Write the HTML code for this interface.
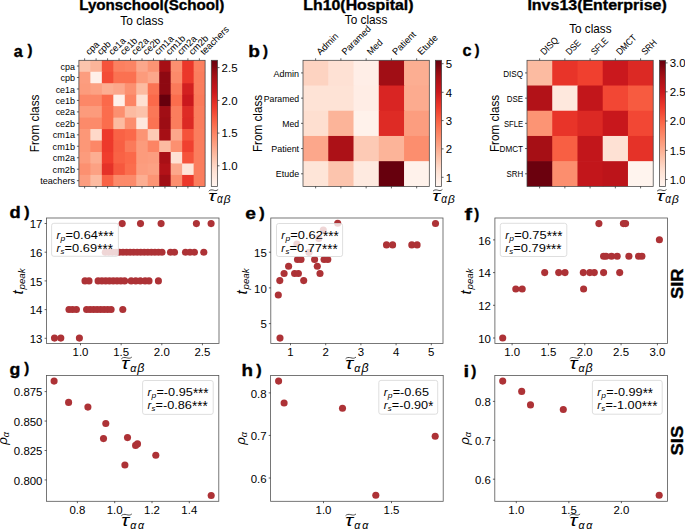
<!DOCTYPE html>
<html><head><meta charset="utf-8"><style>
html,body{margin:0;padding:0;background:#fff;}
svg{display:block;}
text{font-family:"Liberation Sans", sans-serif;}
</style></head><body>
<svg width="685" height="530" viewBox="0 0 685 530">
<rect width="685" height="530" fill="#fff"/>
<text transform="matrix(0.15174 0 0 0.14500 79.189 9.800)" font-size="100" font-weight="bold" stroke="#000" stroke-width="2.360" stroke-linejoin="round">Lyonschool(School)</text>
<text transform="matrix(0.15878 0 0 0.14500 303.343 9.860)" font-size="100" font-weight="bold" stroke="#000" stroke-width="2.307" stroke-linejoin="round">Lh10(Hospital)</text>
<text transform="matrix(0.15966 0 0 0.14500 527.437 9.800)" font-size="100" font-weight="bold" stroke="#000" stroke-width="2.300" stroke-linejoin="round">Invs13(Enterprise)</text>
<text transform="matrix(0.11927 0 0 0.12000 120.361 24.700)" font-size="100">To class</text>
<text transform="matrix(0.11814 0 0 0.12000 344.764 23.650)" font-size="100">To class</text>
<text transform="matrix(0.11730 0 0 0.12000 569.165 33.000)" font-size="100">To class</text>
<text transform="matrix(0 -0.11853 0.12200 0 39.100 152.348)" font-size="100">From class</text>
<text transform="matrix(0 -0.11686 0.12200 0 261.500 152.035)" font-size="100">From class</text>
<text transform="matrix(0 -0.11686 0.12200 0 498.800 152.035)" font-size="100">From class</text>
<text transform="matrix(0.16168 0 0 0.16636 13.790 56.559)" font-size="100" font-weight="bold" fill="#000" stroke="#000" stroke-width="2.134" stroke-linejoin="round">a</text>
<text transform="matrix(0.14912 0 0 0.15241 27.475 55.424)" font-size="100" font-weight="bold" fill="#000" stroke="#000" stroke-width="2.322" stroke-linejoin="round">)</text>
<text transform="matrix(0.19109 0 0 0.16122 248.233 56.964)" font-size="100" font-weight="bold" fill="#000" stroke="#000" stroke-width="1.994" stroke-linejoin="round">b</text>
<text transform="matrix(0.14912 0 0 0.15134 262.975 56.247)" font-size="100" font-weight="bold" fill="#000" stroke="#000" stroke-width="2.330" stroke-linejoin="round">)</text>
<text transform="matrix(0.16186 0 0 0.16818 462.428 56.357)" font-size="100" font-weight="bold" fill="#000" stroke="#000" stroke-width="2.121" stroke-linejoin="round">c</text>
<text transform="matrix(0.14211 0 0 0.15241 474.775 55.424)" font-size="100" font-weight="bold" fill="#000" stroke="#000" stroke-width="2.378" stroke-linejoin="round">)</text>
<text transform="matrix(0.18317 0 0 0.15850 9.442 217.566)" font-size="100" font-weight="bold" fill="#000" stroke="#000" stroke-width="2.054" stroke-linejoin="round">d</text>
<text transform="matrix(0.15965 0 0 0.14920 24.175 216.592)" font-size="100" font-weight="bold" fill="#000" stroke="#000" stroke-width="2.268" stroke-linejoin="round">)</text>
<text transform="matrix(0.19271 0 0 0.15727 245.304 218.668)" font-size="100" font-weight="bold" fill="#000" stroke="#000" stroke-width="2.010" stroke-linejoin="round">e</text>
<text transform="matrix(0.16316 0 0 0.15455 259.175 218.180)" font-size="100" font-weight="bold" fill="#000" stroke="#000" stroke-width="2.204" stroke-linejoin="round">)</text>
<text transform="matrix(0.22656 0 0 0.16483 464.535 220.325)" font-size="100" font-weight="bold" fill="#000" stroke="#000" stroke-width="1.811" stroke-linejoin="round">f</text>
<text transform="matrix(0.14912 0 0 0.14920 474.275 219.192)" font-size="100" font-weight="bold" fill="#000" stroke="#000" stroke-width="2.346" stroke-linejoin="round">)</text>
<text transform="matrix(0.17723 0 0 0.16733 9.466 374.511)" font-size="100" font-weight="bold" fill="#000" stroke="#000" stroke-width="2.032" stroke-linejoin="round">g</text>
<text transform="matrix(0.14912 0 0 0.14599 24.175 373.459)" font-size="100" font-weight="bold" fill="#000" stroke="#000" stroke-width="2.372" stroke-linejoin="round">)</text>
<text transform="matrix(0.18854 0 0 0.16897 241.555 375.725)" font-size="100" font-weight="bold" fill="#000" stroke="#000" stroke-width="1.961" stroke-linejoin="round">h</text>
<text transform="matrix(0.16316 0 0 0.15241 256.275 374.524)" font-size="100" font-weight="bold" fill="#000" stroke="#000" stroke-width="2.220" stroke-linejoin="round">)</text>
<text transform="matrix(0.20357 0 0 0.16897 463.450 377.425)" font-size="100" font-weight="bold" fill="#000" stroke="#000" stroke-width="1.887" stroke-linejoin="round">i</text>
<text transform="matrix(0.15263 0 0 0.15241 471.275 376.224)" font-size="100" font-weight="bold" fill="#000" stroke="#000" stroke-width="2.295" stroke-linejoin="round">)</text>
<rect x="78.900" y="60.300" width="12.173" height="12.164" fill="#fcc4ad"/>
<rect x="90.373" y="60.300" width="12.173" height="12.164" fill="#fcb499"/>
<rect x="101.845" y="60.300" width="12.173" height="12.164" fill="#f5533b"/>
<rect x="113.318" y="60.300" width="12.173" height="12.164" fill="#fc8060"/>
<rect x="124.791" y="60.300" width="12.173" height="12.164" fill="#fc8464"/>
<rect x="136.264" y="60.300" width="12.173" height="12.164" fill="#fca78b"/>
<rect x="147.736" y="60.300" width="12.173" height="12.164" fill="#fc9474"/>
<rect x="159.209" y="60.300" width="12.173" height="12.164" fill="#a60f15"/>
<rect x="170.682" y="60.300" width="12.173" height="12.164" fill="#fc9070"/>
<rect x="182.155" y="60.300" width="12.173" height="12.164" fill="#eb372a"/>
<rect x="193.627" y="60.300" width="11.473" height="12.164" fill="#fc8060"/>
<rect x="78.900" y="71.764" width="12.173" height="12.164" fill="#fc9d7f"/>
<rect x="90.373" y="71.764" width="12.173" height="12.164" fill="#fff0e9"/>
<rect x="101.845" y="71.764" width="12.173" height="12.164" fill="#f34c37"/>
<rect x="113.318" y="71.764" width="12.173" height="12.164" fill="#fb7151"/>
<rect x="124.791" y="71.764" width="12.173" height="12.164" fill="#fb7151"/>
<rect x="136.264" y="71.764" width="12.173" height="12.164" fill="#fc9b7c"/>
<rect x="147.736" y="71.764" width="12.173" height="12.164" fill="#fca78b"/>
<rect x="159.209" y="71.764" width="12.173" height="12.164" fill="#8e0912"/>
<rect x="170.682" y="71.764" width="12.173" height="12.164" fill="#fc8a6a"/>
<rect x="182.155" y="71.764" width="12.173" height="12.164" fill="#eb372a"/>
<rect x="193.627" y="71.764" width="11.473" height="12.164" fill="#fb7d5d"/>
<rect x="78.900" y="83.227" width="12.173" height="12.164" fill="#fc9b7c"/>
<rect x="90.373" y="83.227" width="12.173" height="12.164" fill="#fca183"/>
<rect x="101.845" y="83.227" width="12.173" height="12.164" fill="#fcae92"/>
<rect x="113.318" y="83.227" width="12.173" height="12.164" fill="#fca78b"/>
<rect x="124.791" y="83.227" width="12.173" height="12.164" fill="#fc9070"/>
<rect x="136.264" y="83.227" width="12.173" height="12.164" fill="#fcbba1"/>
<rect x="147.736" y="83.227" width="12.173" height="12.164" fill="#fb7353"/>
<rect x="159.209" y="83.227" width="12.173" height="12.164" fill="#8e0912"/>
<rect x="170.682" y="83.227" width="12.173" height="12.164" fill="#fb7a5a"/>
<rect x="182.155" y="83.227" width="12.173" height="12.164" fill="#d32020"/>
<rect x="193.627" y="83.227" width="11.473" height="12.164" fill="#fb7d5d"/>
<rect x="78.900" y="94.691" width="12.173" height="12.164" fill="#fc8767"/>
<rect x="90.373" y="94.691" width="12.173" height="12.164" fill="#fc8767"/>
<rect x="101.845" y="94.691" width="12.173" height="12.164" fill="#fb694a"/>
<rect x="113.318" y="94.691" width="12.173" height="12.164" fill="#fff0e9"/>
<rect x="124.791" y="94.691" width="12.173" height="12.164" fill="#fc8464"/>
<rect x="136.264" y="94.691" width="12.173" height="12.164" fill="#fee0d2"/>
<rect x="147.736" y="94.691" width="12.173" height="12.164" fill="#fb694a"/>
<rect x="159.209" y="94.691" width="12.173" height="12.164" fill="#67000d"/>
<rect x="170.682" y="94.691" width="12.173" height="12.164" fill="#fb6d4d"/>
<rect x="182.155" y="94.691" width="12.173" height="12.164" fill="#ca181d"/>
<rect x="193.627" y="94.691" width="11.473" height="12.164" fill="#fb7a5a"/>
<rect x="78.900" y="106.155" width="12.173" height="12.164" fill="#fc9b7c"/>
<rect x="90.373" y="106.155" width="12.173" height="12.164" fill="#fc9b7c"/>
<rect x="101.845" y="106.155" width="12.173" height="12.164" fill="#fb6d4d"/>
<rect x="113.318" y="106.155" width="12.173" height="12.164" fill="#fc9070"/>
<rect x="124.791" y="106.155" width="12.173" height="12.164" fill="#fcbba1"/>
<rect x="136.264" y="106.155" width="12.173" height="12.164" fill="#fcc2aa"/>
<rect x="147.736" y="106.155" width="12.173" height="12.164" fill="#fb7757"/>
<rect x="159.209" y="106.155" width="12.173" height="12.164" fill="#a10e15"/>
<rect x="170.682" y="106.155" width="12.173" height="12.164" fill="#fb7d5d"/>
<rect x="182.155" y="106.155" width="12.173" height="12.164" fill="#de2b25"/>
<rect x="193.627" y="106.155" width="11.473" height="12.164" fill="#fb7d5d"/>
<rect x="78.900" y="117.618" width="12.173" height="12.164" fill="#fc8a6a"/>
<rect x="90.373" y="117.618" width="12.173" height="12.164" fill="#fc8a6a"/>
<rect x="101.845" y="117.618" width="12.173" height="12.164" fill="#fb6d4d"/>
<rect x="113.318" y="117.618" width="12.173" height="12.164" fill="#fcbba1"/>
<rect x="124.791" y="117.618" width="12.173" height="12.164" fill="#fc8e6e"/>
<rect x="136.264" y="117.618" width="12.173" height="12.164" fill="#fee8dd"/>
<rect x="147.736" y="117.618" width="12.173" height="12.164" fill="#fb7353"/>
<rect x="159.209" y="117.618" width="12.173" height="12.164" fill="#9d0d14"/>
<rect x="170.682" y="117.618" width="12.173" height="12.164" fill="#fb7d5d"/>
<rect x="182.155" y="117.618" width="12.173" height="12.164" fill="#dc2924"/>
<rect x="193.627" y="117.618" width="11.473" height="12.164" fill="#fb7d5d"/>
<rect x="78.900" y="129.082" width="12.173" height="12.164" fill="#fc9777"/>
<rect x="90.373" y="129.082" width="12.173" height="12.164" fill="#fed9c9"/>
<rect x="101.845" y="129.082" width="12.173" height="12.164" fill="#ed392b"/>
<rect x="113.318" y="129.082" width="12.173" height="12.164" fill="#f96245"/>
<rect x="124.791" y="129.082" width="12.173" height="12.164" fill="#fb694a"/>
<rect x="136.264" y="129.082" width="12.173" height="12.164" fill="#fc9474"/>
<rect x="147.736" y="129.082" width="12.173" height="12.164" fill="#fdcab5"/>
<rect x="159.209" y="129.082" width="12.173" height="12.164" fill="#a60f15"/>
<rect x="170.682" y="129.082" width="12.173" height="12.164" fill="#fca78b"/>
<rect x="182.155" y="129.082" width="12.173" height="12.164" fill="#f5533b"/>
<rect x="193.627" y="129.082" width="11.473" height="12.164" fill="#fb7d5d"/>
<rect x="78.900" y="140.545" width="12.173" height="12.164" fill="#fc9777"/>
<rect x="90.373" y="140.545" width="12.173" height="12.164" fill="#fc8767"/>
<rect x="101.845" y="140.545" width="12.173" height="12.164" fill="#ed392b"/>
<rect x="113.318" y="140.545" width="12.173" height="12.164" fill="#f85f43"/>
<rect x="124.791" y="140.545" width="12.173" height="12.164" fill="#fb7a5a"/>
<rect x="136.264" y="140.545" width="12.173" height="12.164" fill="#fc9b7c"/>
<rect x="147.736" y="140.545" width="12.173" height="12.164" fill="#fc8464"/>
<rect x="159.209" y="140.545" width="12.173" height="12.164" fill="#fcbba1"/>
<rect x="170.682" y="140.545" width="12.173" height="12.164" fill="#fc9070"/>
<rect x="182.155" y="140.545" width="12.173" height="12.164" fill="#f0402f"/>
<rect x="193.627" y="140.545" width="11.473" height="12.164" fill="#fb7d5d"/>
<rect x="78.900" y="152.009" width="12.173" height="12.164" fill="#fc9b7c"/>
<rect x="90.373" y="152.009" width="12.173" height="12.164" fill="#fcae92"/>
<rect x="101.845" y="152.009" width="12.173" height="12.164" fill="#f03d2d"/>
<rect x="113.318" y="152.009" width="12.173" height="12.164" fill="#f96245"/>
<rect x="124.791" y="152.009" width="12.173" height="12.164" fill="#fb694a"/>
<rect x="136.264" y="152.009" width="12.173" height="12.164" fill="#fc9b7c"/>
<rect x="147.736" y="152.009" width="12.173" height="12.164" fill="#fc9d7f"/>
<rect x="159.209" y="152.009" width="12.173" height="12.164" fill="#a91016"/>
<rect x="170.682" y="152.009" width="12.173" height="12.164" fill="#fee1d4"/>
<rect x="182.155" y="152.009" width="12.173" height="12.164" fill="#f5533b"/>
<rect x="193.627" y="152.009" width="11.473" height="12.164" fill="#fb7d5d"/>
<rect x="78.900" y="163.473" width="12.173" height="12.164" fill="#fc9070"/>
<rect x="90.373" y="163.473" width="12.173" height="12.164" fill="#fca183"/>
<rect x="101.845" y="163.473" width="12.173" height="12.164" fill="#e53228"/>
<rect x="113.318" y="163.473" width="12.173" height="12.164" fill="#f6583e"/>
<rect x="124.791" y="163.473" width="12.173" height="12.164" fill="#fb6d4d"/>
<rect x="136.264" y="163.473" width="12.173" height="12.164" fill="#fc9d7f"/>
<rect x="147.736" y="163.473" width="12.173" height="12.164" fill="#fca183"/>
<rect x="159.209" y="163.473" width="12.173" height="12.164" fill="#b21218"/>
<rect x="170.682" y="163.473" width="12.173" height="12.164" fill="#fca78b"/>
<rect x="182.155" y="163.473" width="12.173" height="12.164" fill="#fee5d8"/>
<rect x="193.627" y="163.473" width="11.473" height="12.164" fill="#fb7d5d"/>
<rect x="78.900" y="174.936" width="12.173" height="11.464" fill="#fc9d7f"/>
<rect x="90.373" y="174.936" width="12.173" height="11.464" fill="#fcbba1"/>
<rect x="101.845" y="174.936" width="12.173" height="11.464" fill="#f96245"/>
<rect x="113.318" y="174.936" width="12.173" height="11.464" fill="#fc8a6a"/>
<rect x="124.791" y="174.936" width="12.173" height="11.464" fill="#fc8a6a"/>
<rect x="136.264" y="174.936" width="12.173" height="11.464" fill="#fcae92"/>
<rect x="147.736" y="174.936" width="12.173" height="11.464" fill="#fc9474"/>
<rect x="159.209" y="174.936" width="12.173" height="11.464" fill="#a10e15"/>
<rect x="170.682" y="174.936" width="12.173" height="11.464" fill="#fc8e6e"/>
<rect x="182.155" y="174.936" width="12.173" height="11.464" fill="#eb372a"/>
<rect x="193.627" y="174.936" width="11.473" height="11.464" fill="#fb7d5d"/>
<rect x="78.900" y="60.300" width="126.200" height="126.100" fill="none" stroke="#444" stroke-width="0.75"/>
<line x1="84.636" y1="60.300" x2="84.636" y2="58.300" stroke="#222" stroke-width="0.7"/>
<line x1="84.636" y1="186.400" x2="84.636" y2="188.400" stroke="#222" stroke-width="0.7"/>
<line x1="78.900" y1="66.032" x2="76.900" y2="66.032" stroke="#222" stroke-width="0.7"/>
<text x="75.000" y="69.632" font-size="8.960" text-anchor="end" textLength="14.379" lengthAdjust="spacingAndGlyphs">cpa</text>
<text x="89.236" y="55.600" font-size="9.352" text-anchor="start" textLength="15.008" lengthAdjust="spacingAndGlyphs" transform="rotate(-45 89.236 55.600)">cpa</text>
<line x1="96.109" y1="60.300" x2="96.109" y2="58.300" stroke="#222" stroke-width="0.7"/>
<line x1="96.109" y1="186.400" x2="96.109" y2="188.400" stroke="#222" stroke-width="0.7"/>
<line x1="78.900" y1="77.495" x2="76.900" y2="77.495" stroke="#222" stroke-width="0.7"/>
<text x="75.000" y="81.095" font-size="8.960" text-anchor="end" textLength="14.555" lengthAdjust="spacingAndGlyphs">cpb</text>
<text x="100.709" y="55.600" font-size="9.352" text-anchor="start" textLength="15.192" lengthAdjust="spacingAndGlyphs" transform="rotate(-45 100.709 55.600)">cpb</text>
<line x1="107.582" y1="60.300" x2="107.582" y2="58.300" stroke="#222" stroke-width="0.7"/>
<line x1="107.582" y1="186.400" x2="107.582" y2="188.400" stroke="#222" stroke-width="0.7"/>
<line x1="78.900" y1="88.959" x2="76.900" y2="88.959" stroke="#222" stroke-width="0.7"/>
<text x="75.000" y="92.559" font-size="8.960" text-anchor="end" textLength="19.313" lengthAdjust="spacingAndGlyphs">ce1a</text>
<text x="112.182" y="55.600" font-size="9.352" text-anchor="start" textLength="20.158" lengthAdjust="spacingAndGlyphs" transform="rotate(-45 112.182 55.600)">ce1a</text>
<line x1="119.055" y1="60.300" x2="119.055" y2="58.300" stroke="#222" stroke-width="0.7"/>
<line x1="119.055" y1="186.400" x2="119.055" y2="188.400" stroke="#222" stroke-width="0.7"/>
<line x1="78.900" y1="100.423" x2="76.900" y2="100.423" stroke="#222" stroke-width="0.7"/>
<text x="75.000" y="104.023" font-size="8.960" text-anchor="end" textLength="19.489" lengthAdjust="spacingAndGlyphs">ce1b</text>
<text x="123.655" y="55.600" font-size="9.352" text-anchor="start" textLength="20.341" lengthAdjust="spacingAndGlyphs" transform="rotate(-45 123.655 55.600)">ce1b</text>
<line x1="130.527" y1="60.300" x2="130.527" y2="58.300" stroke="#222" stroke-width="0.7"/>
<line x1="130.527" y1="186.400" x2="130.527" y2="188.400" stroke="#222" stroke-width="0.7"/>
<line x1="78.900" y1="111.886" x2="76.900" y2="111.886" stroke="#222" stroke-width="0.7"/>
<text x="75.000" y="115.486" font-size="8.960" text-anchor="end" textLength="19.313" lengthAdjust="spacingAndGlyphs">ce2a</text>
<text x="135.127" y="55.600" font-size="9.352" text-anchor="start" textLength="20.158" lengthAdjust="spacingAndGlyphs" transform="rotate(-45 135.127 55.600)">ce2a</text>
<line x1="142.000" y1="60.300" x2="142.000" y2="58.300" stroke="#222" stroke-width="0.7"/>
<line x1="142.000" y1="186.400" x2="142.000" y2="188.400" stroke="#222" stroke-width="0.7"/>
<line x1="78.900" y1="123.350" x2="76.900" y2="123.350" stroke="#222" stroke-width="0.7"/>
<text x="75.000" y="126.950" font-size="8.960" text-anchor="end" textLength="19.489" lengthAdjust="spacingAndGlyphs">ce2b</text>
<text x="146.600" y="55.600" font-size="9.352" text-anchor="start" textLength="20.341" lengthAdjust="spacingAndGlyphs" transform="rotate(-45 146.600 55.600)">ce2b</text>
<line x1="153.473" y1="60.300" x2="153.473" y2="58.300" stroke="#222" stroke-width="0.7"/>
<line x1="153.473" y1="186.400" x2="153.473" y2="188.400" stroke="#222" stroke-width="0.7"/>
<line x1="78.900" y1="134.814" x2="76.900" y2="134.814" stroke="#222" stroke-width="0.7"/>
<text x="75.000" y="138.414" font-size="8.960" text-anchor="end" textLength="22.184" lengthAdjust="spacingAndGlyphs">cm1a</text>
<text x="158.073" y="55.600" font-size="9.352" text-anchor="start" textLength="23.155" lengthAdjust="spacingAndGlyphs" transform="rotate(-45 158.073 55.600)">cm1a</text>
<line x1="164.945" y1="60.300" x2="164.945" y2="58.300" stroke="#222" stroke-width="0.7"/>
<line x1="164.945" y1="186.400" x2="164.945" y2="188.400" stroke="#222" stroke-width="0.7"/>
<line x1="78.900" y1="146.277" x2="76.900" y2="146.277" stroke="#222" stroke-width="0.7"/>
<text x="75.000" y="149.877" font-size="8.960" text-anchor="end" textLength="22.360" lengthAdjust="spacingAndGlyphs">cm1b</text>
<text x="169.545" y="55.600" font-size="9.352" text-anchor="start" textLength="23.338" lengthAdjust="spacingAndGlyphs" transform="rotate(-45 169.545 55.600)">cm1b</text>
<line x1="176.418" y1="60.300" x2="176.418" y2="58.300" stroke="#222" stroke-width="0.7"/>
<line x1="176.418" y1="186.400" x2="176.418" y2="188.400" stroke="#222" stroke-width="0.7"/>
<line x1="78.900" y1="157.741" x2="76.900" y2="157.741" stroke="#222" stroke-width="0.7"/>
<text x="75.000" y="161.341" font-size="8.960" text-anchor="end" textLength="22.184" lengthAdjust="spacingAndGlyphs">cm2a</text>
<text x="181.018" y="55.600" font-size="9.352" text-anchor="start" textLength="23.155" lengthAdjust="spacingAndGlyphs" transform="rotate(-45 181.018 55.600)">cm2a</text>
<line x1="187.891" y1="60.300" x2="187.891" y2="58.300" stroke="#222" stroke-width="0.7"/>
<line x1="187.891" y1="186.400" x2="187.891" y2="188.400" stroke="#222" stroke-width="0.7"/>
<line x1="78.900" y1="169.205" x2="76.900" y2="169.205" stroke="#222" stroke-width="0.7"/>
<text x="75.000" y="172.805" font-size="8.960" text-anchor="end" textLength="22.360" lengthAdjust="spacingAndGlyphs">cm2b</text>
<text x="192.491" y="55.600" font-size="9.352" text-anchor="start" textLength="23.338" lengthAdjust="spacingAndGlyphs" transform="rotate(-45 192.491 55.600)">cm2b</text>
<line x1="199.364" y1="60.300" x2="199.364" y2="58.300" stroke="#222" stroke-width="0.7"/>
<line x1="199.364" y1="186.400" x2="199.364" y2="188.400" stroke="#222" stroke-width="0.7"/>
<line x1="78.900" y1="180.668" x2="76.900" y2="180.668" stroke="#222" stroke-width="0.7"/>
<text x="75.000" y="184.268" font-size="8.960" text-anchor="end" textLength="34.810" lengthAdjust="spacingAndGlyphs">teachers</text>
<text x="203.964" y="55.600" font-size="9.352" text-anchor="start" textLength="36.333" lengthAdjust="spacingAndGlyphs" transform="rotate(-45 203.964 55.600)">teachers</text>
<rect x="303.000" y="60.300" width="25.960" height="25.920" fill="#fdd3c1"/>
<rect x="328.260" y="60.300" width="25.960" height="25.920" fill="#fee1d4"/>
<rect x="353.520" y="60.300" width="25.960" height="25.920" fill="#ffeee7"/>
<rect x="378.780" y="60.300" width="25.960" height="25.920" fill="#a10e15"/>
<rect x="404.040" y="60.300" width="25.260" height="25.920" fill="#fcae92"/>
<rect x="303.000" y="85.520" width="25.960" height="25.920" fill="#fee3d6"/>
<rect x="328.260" y="85.520" width="25.960" height="25.920" fill="#fee3d6"/>
<rect x="353.520" y="85.520" width="25.960" height="25.920" fill="#ffede5"/>
<rect x="378.780" y="85.520" width="25.960" height="25.920" fill="#d92523"/>
<rect x="404.040" y="85.520" width="25.260" height="25.920" fill="#fcab8f"/>
<rect x="303.000" y="110.740" width="25.960" height="25.920" fill="#fedfd0"/>
<rect x="328.260" y="110.740" width="25.960" height="25.920" fill="#fcb499"/>
<rect x="353.520" y="110.740" width="25.960" height="25.920" fill="#fff2eb"/>
<rect x="378.780" y="110.740" width="25.960" height="25.920" fill="#de2b25"/>
<rect x="404.040" y="110.740" width="25.260" height="25.920" fill="#fc9d7f"/>
<rect x="303.000" y="135.960" width="25.960" height="25.920" fill="#fca78b"/>
<rect x="328.260" y="135.960" width="25.960" height="25.920" fill="#ac1117"/>
<rect x="353.520" y="135.960" width="25.960" height="25.920" fill="#fdcab5"/>
<rect x="378.780" y="135.960" width="25.960" height="25.920" fill="#fcb499"/>
<rect x="404.040" y="135.960" width="25.260" height="25.920" fill="#fc8e6e"/>
<rect x="303.000" y="161.180" width="25.960" height="25.220" fill="#fee5d8"/>
<rect x="328.260" y="161.180" width="25.960" height="25.220" fill="#fcc4ad"/>
<rect x="353.520" y="161.180" width="25.960" height="25.220" fill="#feeae0"/>
<rect x="378.780" y="161.180" width="25.960" height="25.220" fill="#67000d"/>
<rect x="404.040" y="161.180" width="25.260" height="25.220" fill="#fff2eb"/>
<rect x="303.000" y="60.300" width="126.300" height="126.100" fill="none" stroke="#444" stroke-width="0.75"/>
<line x1="315.630" y1="60.300" x2="315.630" y2="58.300" stroke="#222" stroke-width="0.7"/>
<line x1="315.630" y1="186.400" x2="315.630" y2="188.400" stroke="#222" stroke-width="0.7"/>
<line x1="303.000" y1="72.910" x2="301.000" y2="72.910" stroke="#222" stroke-width="0.7"/>
<text x="299.100" y="76.510" font-size="8.960" text-anchor="end" textLength="25.496" lengthAdjust="spacingAndGlyphs">Admin</text>
<text x="320.230" y="55.600" font-size="9.352" text-anchor="start" textLength="26.612" lengthAdjust="spacingAndGlyphs" transform="rotate(-45 320.230 55.600)">Admin</text>
<line x1="340.890" y1="60.300" x2="340.890" y2="58.300" stroke="#222" stroke-width="0.7"/>
<line x1="340.890" y1="186.400" x2="340.890" y2="188.400" stroke="#222" stroke-width="0.7"/>
<line x1="303.000" y1="98.130" x2="301.000" y2="98.130" stroke="#222" stroke-width="0.7"/>
<text x="299.100" y="101.730" font-size="8.960" text-anchor="end" textLength="35.352" lengthAdjust="spacingAndGlyphs">Paramed</text>
<text x="345.490" y="55.600" font-size="9.352" text-anchor="start" textLength="36.899" lengthAdjust="spacingAndGlyphs" transform="rotate(-45 345.490 55.600)">Paramed</text>
<line x1="366.150" y1="60.300" x2="366.150" y2="58.300" stroke="#222" stroke-width="0.7"/>
<line x1="366.150" y1="186.400" x2="366.150" y2="188.400" stroke="#222" stroke-width="0.7"/>
<line x1="303.000" y1="123.350" x2="301.000" y2="123.350" stroke="#222" stroke-width="0.7"/>
<text x="299.100" y="126.950" font-size="8.960" text-anchor="end" textLength="16.902" lengthAdjust="spacingAndGlyphs">Med</text>
<text x="370.750" y="55.600" font-size="9.352" text-anchor="start" textLength="17.642" lengthAdjust="spacingAndGlyphs" transform="rotate(-45 370.750 55.600)">Med</text>
<line x1="391.410" y1="60.300" x2="391.410" y2="58.300" stroke="#222" stroke-width="0.7"/>
<line x1="391.410" y1="186.400" x2="391.410" y2="188.400" stroke="#222" stroke-width="0.7"/>
<line x1="303.000" y1="148.570" x2="301.000" y2="148.570" stroke="#222" stroke-width="0.7"/>
<text x="299.100" y="152.170" font-size="8.960" text-anchor="end" textLength="27.856" lengthAdjust="spacingAndGlyphs">Patient</text>
<text x="396.010" y="55.600" font-size="9.352" text-anchor="start" textLength="29.075" lengthAdjust="spacingAndGlyphs" transform="rotate(-45 396.010 55.600)">Patient</text>
<line x1="416.670" y1="60.300" x2="416.670" y2="58.300" stroke="#222" stroke-width="0.7"/>
<line x1="416.670" y1="186.400" x2="416.670" y2="188.400" stroke="#222" stroke-width="0.7"/>
<line x1="303.000" y1="173.790" x2="301.000" y2="173.790" stroke="#222" stroke-width="0.7"/>
<text x="299.100" y="177.390" font-size="8.960" text-anchor="end" textLength="23.262" lengthAdjust="spacingAndGlyphs">Etude</text>
<text x="421.270" y="55.600" font-size="9.352" text-anchor="start" textLength="24.280" lengthAdjust="spacingAndGlyphs" transform="rotate(-45 421.270 55.600)">Etude</text>
<rect x="527.000" y="60.300" width="25.940" height="25.920" fill="#fcbba1"/>
<rect x="552.240" y="60.300" width="25.940" height="25.920" fill="#e83429"/>
<rect x="577.480" y="60.300" width="25.940" height="25.920" fill="#f0402f"/>
<rect x="602.720" y="60.300" width="25.940" height="25.920" fill="#ca181d"/>
<rect x="627.960" y="60.300" width="25.240" height="25.920" fill="#dc2924"/>
<rect x="527.000" y="85.520" width="25.940" height="25.920" fill="#b21218"/>
<rect x="552.240" y="85.520" width="25.940" height="25.920" fill="#fee8dd"/>
<rect x="577.480" y="85.520" width="25.940" height="25.920" fill="#c2161b"/>
<rect x="602.720" y="85.520" width="25.940" height="25.920" fill="#f24734"/>
<rect x="627.960" y="85.520" width="25.240" height="25.920" fill="#f75b40"/>
<rect x="527.000" y="110.740" width="25.940" height="25.920" fill="#fc9474"/>
<rect x="552.240" y="110.740" width="25.940" height="25.920" fill="#e83429"/>
<rect x="577.480" y="110.740" width="25.940" height="25.920" fill="#dc2924"/>
<rect x="602.720" y="110.740" width="25.940" height="25.920" fill="#c8171c"/>
<rect x="627.960" y="110.740" width="25.240" height="25.920" fill="#f24734"/>
<rect x="527.000" y="135.960" width="25.940" height="25.920" fill="#a60f15"/>
<rect x="552.240" y="135.960" width="25.940" height="25.920" fill="#f85f43"/>
<rect x="577.480" y="135.960" width="25.940" height="25.920" fill="#c2161b"/>
<rect x="602.720" y="135.960" width="25.940" height="25.920" fill="#fee1d4"/>
<rect x="627.960" y="135.960" width="25.240" height="25.920" fill="#e53228"/>
<rect x="527.000" y="161.180" width="25.940" height="25.220" fill="#6b010e"/>
<rect x="552.240" y="161.180" width="25.940" height="25.220" fill="#fc8e6e"/>
<rect x="577.480" y="161.180" width="25.940" height="25.220" fill="#c2161b"/>
<rect x="602.720" y="161.180" width="25.940" height="25.220" fill="#bc141a"/>
<rect x="627.960" y="161.180" width="25.240" height="25.220" fill="#fff4ee"/>
<rect x="527.000" y="60.300" width="126.200" height="126.100" fill="none" stroke="#444" stroke-width="0.75"/>
<line x1="539.620" y1="60.300" x2="539.620" y2="58.300" stroke="#222" stroke-width="0.7"/>
<line x1="539.620" y1="186.400" x2="539.620" y2="188.400" stroke="#222" stroke-width="0.7"/>
<line x1="527.000" y1="72.910" x2="525.000" y2="72.910" stroke="#222" stroke-width="0.7"/>
<text x="523.100" y="76.510" font-size="8.960" text-anchor="end" textLength="19.894" lengthAdjust="spacingAndGlyphs">DISQ</text>
<text x="544.220" y="55.600" font-size="9.352" text-anchor="start" textLength="20.765" lengthAdjust="spacingAndGlyphs" transform="rotate(-45 544.220 55.600)">DISQ</text>
<line x1="564.860" y1="60.300" x2="564.860" y2="58.300" stroke="#222" stroke-width="0.7"/>
<line x1="564.860" y1="186.400" x2="564.860" y2="188.400" stroke="#222" stroke-width="0.7"/>
<line x1="527.000" y1="98.130" x2="525.000" y2="98.130" stroke="#222" stroke-width="0.7"/>
<text x="523.100" y="101.730" font-size="8.960" text-anchor="end" textLength="16.293" lengthAdjust="spacingAndGlyphs">DSE</text>
<text x="569.460" y="55.600" font-size="9.352" text-anchor="start" textLength="17.006" lengthAdjust="spacingAndGlyphs" transform="rotate(-45 569.460 55.600)">DSE</text>
<line x1="590.100" y1="60.300" x2="590.100" y2="58.300" stroke="#222" stroke-width="0.7"/>
<line x1="590.100" y1="186.400" x2="590.100" y2="188.400" stroke="#222" stroke-width="0.7"/>
<line x1="527.000" y1="123.350" x2="525.000" y2="123.350" stroke="#222" stroke-width="0.7"/>
<text x="523.100" y="126.950" font-size="8.960" text-anchor="end" textLength="19.192" lengthAdjust="spacingAndGlyphs">SFLE</text>
<text x="594.700" y="55.600" font-size="9.352" text-anchor="start" textLength="20.032" lengthAdjust="spacingAndGlyphs" transform="rotate(-45 594.700 55.600)">SFLE</text>
<line x1="615.340" y1="60.300" x2="615.340" y2="58.300" stroke="#222" stroke-width="0.7"/>
<line x1="615.340" y1="186.400" x2="615.340" y2="188.400" stroke="#222" stroke-width="0.7"/>
<line x1="527.000" y1="148.570" x2="525.000" y2="148.570" stroke="#222" stroke-width="0.7"/>
<text x="523.100" y="152.170" font-size="8.960" text-anchor="end" textLength="23.536" lengthAdjust="spacingAndGlyphs">DMCT</text>
<text x="619.940" y="55.600" font-size="9.352" text-anchor="start" textLength="24.565" lengthAdjust="spacingAndGlyphs" transform="rotate(-45 619.940 55.600)">DMCT</text>
<line x1="640.580" y1="60.300" x2="640.580" y2="58.300" stroke="#222" stroke-width="0.7"/>
<line x1="640.580" y1="186.400" x2="640.580" y2="188.400" stroke="#222" stroke-width="0.7"/>
<line x1="527.000" y1="173.790" x2="525.000" y2="173.790" stroke="#222" stroke-width="0.7"/>
<text x="523.100" y="177.390" font-size="8.960" text-anchor="end" textLength="16.652" lengthAdjust="spacingAndGlyphs">SRH</text>
<text x="645.180" y="55.600" font-size="9.352" text-anchor="start" textLength="17.381" lengthAdjust="spacingAndGlyphs" transform="rotate(-45 645.180 55.600)">SRH</text>
<defs><linearGradient id="cb" x1="0" y1="0" x2="0" y2="1"><stop offset="0.0000" stop-color="#67000d"/><stop offset="0.0250" stop-color="#73030f"/><stop offset="0.0500" stop-color="#7e0610"/><stop offset="0.0750" stop-color="#8c0912"/><stop offset="0.1000" stop-color="#980c13"/><stop offset="0.1250" stop-color="#a30f15"/><stop offset="0.1500" stop-color="#ac1117"/><stop offset="0.1750" stop-color="#b31218"/><stop offset="0.2000" stop-color="#bc141a"/><stop offset="0.2250" stop-color="#c3161b"/><stop offset="0.2500" stop-color="#ca181d"/><stop offset="0.2750" stop-color="#d21f20"/><stop offset="0.3000" stop-color="#d92523"/><stop offset="0.3250" stop-color="#e12d26"/><stop offset="0.3500" stop-color="#e83429"/><stop offset="0.3750" stop-color="#ee3a2c"/><stop offset="0.4000" stop-color="#f14432"/><stop offset="0.4250" stop-color="#f44d38"/><stop offset="0.4500" stop-color="#f6583e"/><stop offset="0.4750" stop-color="#f96044"/><stop offset="0.5000" stop-color="#fb694a"/><stop offset="0.5250" stop-color="#fb7252"/><stop offset="0.5500" stop-color="#fb7a5a"/><stop offset="0.5750" stop-color="#fc8262"/><stop offset="0.6000" stop-color="#fc8a6a"/><stop offset="0.6250" stop-color="#fc9272"/><stop offset="0.6500" stop-color="#fc9b7c"/><stop offset="0.6750" stop-color="#fca285"/><stop offset="0.7000" stop-color="#fcab8f"/><stop offset="0.7250" stop-color="#fcb398"/><stop offset="0.7500" stop-color="#fcbba1"/><stop offset="0.7750" stop-color="#fcc3ab"/><stop offset="0.8000" stop-color="#fdcab5"/><stop offset="0.8250" stop-color="#fdd2bf"/><stop offset="0.8500" stop-color="#fed9c9"/><stop offset="0.8750" stop-color="#fee0d2"/><stop offset="0.9000" stop-color="#fee5d8"/><stop offset="0.9250" stop-color="#fee8de"/><stop offset="0.9500" stop-color="#ffede5"/><stop offset="0.9750" stop-color="#fff1ea"/><stop offset="1.0000" stop-color="#fff5f0"/></linearGradient></defs>
<rect x="211.300" y="60.300" width="6.200" height="126.100" fill="url(#cb)" stroke="#444" stroke-width="0.75"/>
<line x1="217.500" y1="67.600" x2="219.500" y2="67.600" stroke="#222" stroke-width="0.7"/>
<text x="221.600" y="71.900" font-size="10.500" text-anchor="start" textLength="15.904" lengthAdjust="spacingAndGlyphs">2.5</text>
<line x1="217.500" y1="100.400" x2="219.500" y2="100.400" stroke="#222" stroke-width="0.7"/>
<text x="221.600" y="104.700" font-size="10.500" text-anchor="start" textLength="15.904" lengthAdjust="spacingAndGlyphs">2.0</text>
<line x1="217.500" y1="133.100" x2="219.500" y2="133.100" stroke="#222" stroke-width="0.7"/>
<text x="221.600" y="137.400" font-size="10.500" text-anchor="start" textLength="15.904" lengthAdjust="spacingAndGlyphs">1.5</text>
<line x1="217.500" y1="165.800" x2="219.500" y2="165.800" stroke="#222" stroke-width="0.7"/>
<text x="221.600" y="170.100" font-size="10.500" text-anchor="start" textLength="15.904" lengthAdjust="spacingAndGlyphs">1.0</text>
<rect x="435.400" y="60.300" width="6.200" height="126.100" fill="url(#cb)" stroke="#444" stroke-width="0.75"/>
<line x1="441.600" y1="63.700" x2="443.600" y2="63.700" stroke="#222" stroke-width="0.7"/>
<text x="445.700" y="68.000" font-size="10.500" text-anchor="start" textLength="6.362" lengthAdjust="spacingAndGlyphs">5</text>
<line x1="441.600" y1="92.300" x2="443.600" y2="92.300" stroke="#222" stroke-width="0.7"/>
<text x="445.700" y="96.600" font-size="10.500" text-anchor="start" textLength="6.362" lengthAdjust="spacingAndGlyphs">4</text>
<line x1="441.600" y1="120.600" x2="443.600" y2="120.600" stroke="#222" stroke-width="0.7"/>
<text x="445.700" y="124.900" font-size="10.500" text-anchor="start" textLength="6.362" lengthAdjust="spacingAndGlyphs">3</text>
<line x1="441.600" y1="148.900" x2="443.600" y2="148.900" stroke="#222" stroke-width="0.7"/>
<text x="445.700" y="153.200" font-size="10.500" text-anchor="start" textLength="6.362" lengthAdjust="spacingAndGlyphs">2</text>
<line x1="441.600" y1="177.300" x2="443.600" y2="177.300" stroke="#222" stroke-width="0.7"/>
<text x="445.700" y="181.600" font-size="10.500" text-anchor="start" textLength="6.362" lengthAdjust="spacingAndGlyphs">1</text>
<rect x="659.400" y="60.300" width="6.200" height="126.100" fill="url(#cb)" stroke="#444" stroke-width="0.75"/>
<line x1="665.600" y1="62.900" x2="667.600" y2="62.900" stroke="#222" stroke-width="0.7"/>
<text x="669.700" y="67.200" font-size="10.500" text-anchor="start" textLength="15.904" lengthAdjust="spacingAndGlyphs">3.0</text>
<line x1="665.600" y1="91.800" x2="667.600" y2="91.800" stroke="#222" stroke-width="0.7"/>
<text x="669.700" y="96.100" font-size="10.500" text-anchor="start" textLength="15.904" lengthAdjust="spacingAndGlyphs">2.5</text>
<line x1="665.600" y1="121.000" x2="667.600" y2="121.000" stroke="#222" stroke-width="0.7"/>
<text x="669.700" y="125.300" font-size="10.500" text-anchor="start" textLength="15.904" lengthAdjust="spacingAndGlyphs">2.0</text>
<line x1="665.600" y1="150.400" x2="667.600" y2="150.400" stroke="#222" stroke-width="0.7"/>
<text x="669.700" y="154.700" font-size="10.500" text-anchor="start" textLength="15.904" lengthAdjust="spacingAndGlyphs">1.5</text>
<line x1="665.600" y1="179.500" x2="667.600" y2="179.500" stroke="#222" stroke-width="0.7"/>
<text x="669.700" y="183.800" font-size="10.500" text-anchor="start" textLength="15.904" lengthAdjust="spacingAndGlyphs">1.0</text>
<text transform="matrix(0.21026 0 0 0.16111 121.164 526.339)" font-size="100" font-style="italic" fill="#000">τ</text>
<path d="M121.60 515.40 C122.39 514.30 124.57 514.10 126.55 514.65 S130.01 515.50 131.50 514.25" fill="none" stroke="#222" stroke-width="0.8" stroke-linecap="round"/>
<text transform="matrix(0.10714 0 0 0.10182 130.125 528.998)" font-size="100" font-style="italic" fill="#000">α</text>
<text transform="matrix(0.10714 0 0 0.10182 138.025 528.998)" font-size="100" font-style="italic" fill="#000">α</text>
<text transform="matrix(0.21026 0 0 0.16111 345.364 526.339)" font-size="100" font-style="italic" fill="#000">τ</text>
<path d="M345.80 515.40 C346.59 514.30 348.77 514.10 350.75 514.65 S354.21 515.50 355.70 514.25" fill="none" stroke="#222" stroke-width="0.8" stroke-linecap="round"/>
<text transform="matrix(0.10714 0 0 0.10182 354.325 528.998)" font-size="100" font-style="italic" fill="#000">α</text>
<text transform="matrix(0.10714 0 0 0.10182 362.225 528.998)" font-size="100" font-style="italic" fill="#000">α</text>
<text transform="matrix(0.21026 0 0 0.16111 569.464 526.339)" font-size="100" font-style="italic" fill="#000">τ</text>
<path d="M569.90 515.40 C570.69 514.30 572.87 514.10 574.85 514.65 S578.31 515.50 579.80 514.25" fill="none" stroke="#222" stroke-width="0.8" stroke-linecap="round"/>
<text transform="matrix(0.10714 0 0 0.10182 578.425 528.998)" font-size="100" font-style="italic" fill="#000">α</text>
<text transform="matrix(0.10714 0 0 0.10182 586.325 528.998)" font-size="100" font-style="italic" fill="#000">α</text>
<text transform="matrix(0.20769 0 0 0.15000 208.173 200.850)" font-size="100" font-style="italic" fill="#000">τ</text>
<path d="M209.00 190.90 C209.71 189.80 211.67 189.60 213.45 190.15 S216.56 191.00 217.90 189.75" fill="none" stroke="#222" stroke-width="0.8" stroke-linecap="round"/>
<text transform="matrix(0.10179 0 0 0.12000 216.944 203.280)" font-size="100" font-style="italic" fill="#000">α</text>
<text transform="matrix(0.11930 0 0 0.10267 223.698 202.744)" font-size="100" font-style="italic" fill="#000">β</text>
<text transform="matrix(0.20769 0 0 0.15000 432.373 200.850)" font-size="100" font-style="italic" fill="#000">τ</text>
<path d="M433.20 190.90 C433.91 189.80 435.87 189.60 437.65 190.15 S440.77 191.00 442.10 189.75" fill="none" stroke="#222" stroke-width="0.8" stroke-linecap="round"/>
<text transform="matrix(0.10179 0 0 0.12000 441.144 203.280)" font-size="100" font-style="italic" fill="#000">α</text>
<text transform="matrix(0.11930 0 0 0.10267 447.898 202.744)" font-size="100" font-style="italic" fill="#000">β</text>
<text transform="matrix(0.20769 0 0 0.15000 656.473 200.850)" font-size="100" font-style="italic" fill="#000">τ</text>
<path d="M657.30 190.90 C658.01 189.80 659.97 189.60 661.75 190.15 S664.87 191.00 666.20 189.75" fill="none" stroke="#222" stroke-width="0.8" stroke-linecap="round"/>
<text transform="matrix(0.10179 0 0 0.12000 665.244 203.280)" font-size="100" font-style="italic" fill="#000">α</text>
<text transform="matrix(0.11930 0 0 0.10267 671.998 202.744)" font-size="100" font-style="italic" fill="#000">β</text>
<text transform="matrix(0 -0.15185 0.13939 0 22.961 294.583)" font-size="100" font-style="italic">t</text>
<text transform="matrix(0 -0.09799 0.09733 0 24.856 289.555)" font-size="100" font-style="italic">peak</text>
<text transform="matrix(0 -0.15185 0.13939 0 247.161 294.583)" font-size="100" font-style="italic">t</text>
<text transform="matrix(0 -0.09799 0.09733 0 249.056 289.555)" font-size="100" font-style="italic">peak</text>
<text transform="matrix(0 -0.15185 0.13939 0 471.261 294.583)" font-size="100" font-style="italic">t</text>
<text transform="matrix(0 -0.09799 0.09733 0 473.156 289.555)" font-size="100" font-style="italic">peak</text>
<text transform="matrix(0 -0.13274 0.13600 0 7.044 444.868)" font-size="100" font-style="italic">ρ</text>
<text transform="matrix(0 -0.09286 0.09273 0 9.207 437.225)" font-size="100" font-style="italic">α</text>
<text transform="matrix(0 -0.13274 0.13600 0 244.944 444.868)" font-size="100" font-style="italic">ρ</text>
<text transform="matrix(0 -0.09286 0.08727 0 246.913 437.225)" font-size="100" font-style="italic">α</text>
<text transform="matrix(0 -0.13274 0.13600 0 469.144 444.868)" font-size="100" font-style="italic">ρ</text>
<text transform="matrix(0 -0.09286 0.09273 0 471.007 437.225)" font-size="100" font-style="italic">α</text>
<text transform="matrix(0 -0.18483 0.16831 0 683.257 299.079)" font-size="100" font-weight="bold" stroke="#000" stroke-width="1.984" stroke-linejoin="round">SIR</text>
<text transform="matrix(0 -0.18414 0.16831 0 683.257 455.477)" font-size="100" font-weight="bold" stroke="#000" stroke-width="1.988" stroke-linejoin="round">SIS</text>
<rect x="46.500" y="218.000" width="172.500" height="125.400" fill="#fff" stroke="#555" stroke-width="0.8"/>
<line x1="80.500" y1="343.400" x2="80.500" y2="345.300" stroke="#222" stroke-width="0.7"/>
<text x="80.500" y="356.200" font-size="10.500" text-anchor="middle" textLength="15.904" lengthAdjust="spacingAndGlyphs">1.0</text>
<line x1="121.150" y1="343.400" x2="121.150" y2="345.300" stroke="#222" stroke-width="0.7"/>
<text x="121.150" y="356.200" font-size="10.500" text-anchor="middle" textLength="15.904" lengthAdjust="spacingAndGlyphs">1.5</text>
<line x1="161.800" y1="343.400" x2="161.800" y2="345.300" stroke="#222" stroke-width="0.7"/>
<text x="161.800" y="356.200" font-size="10.500" text-anchor="middle" textLength="15.904" lengthAdjust="spacingAndGlyphs">2.0</text>
<line x1="202.450" y1="343.400" x2="202.450" y2="345.300" stroke="#222" stroke-width="0.7"/>
<text x="202.450" y="356.200" font-size="10.500" text-anchor="middle" textLength="15.904" lengthAdjust="spacingAndGlyphs">2.5</text>
<line x1="46.500" y1="223.500" x2="44.600" y2="223.500" stroke="#222" stroke-width="0.7"/>
<text x="42.500" y="228.300" font-size="10.500" text-anchor="end" textLength="12.725" lengthAdjust="spacingAndGlyphs">17</text>
<line x1="46.500" y1="252.200" x2="44.600" y2="252.200" stroke="#222" stroke-width="0.7"/>
<text x="42.500" y="257.000" font-size="10.500" text-anchor="end" textLength="12.725" lengthAdjust="spacingAndGlyphs">16</text>
<line x1="46.500" y1="280.900" x2="44.600" y2="280.900" stroke="#222" stroke-width="0.7"/>
<text x="42.500" y="285.700" font-size="10.500" text-anchor="end" textLength="12.725" lengthAdjust="spacingAndGlyphs">15</text>
<line x1="46.500" y1="309.600" x2="44.600" y2="309.600" stroke="#222" stroke-width="0.7"/>
<text x="42.500" y="314.400" font-size="10.500" text-anchor="end" textLength="12.725" lengthAdjust="spacingAndGlyphs">14</text>
<line x1="46.500" y1="338.300" x2="44.600" y2="338.300" stroke="#222" stroke-width="0.7"/>
<text x="42.500" y="343.100" font-size="10.500" text-anchor="end" textLength="12.725" lengthAdjust="spacingAndGlyphs">13</text>
<circle cx="122.20" cy="223.60" r="3.55" fill="#ad3236"/>
<circle cx="140.50" cy="223.60" r="3.55" fill="#ad3236"/>
<circle cx="161.10" cy="223.60" r="3.55" fill="#ad3236"/>
<circle cx="196.40" cy="223.60" r="3.55" fill="#ad3236"/>
<circle cx="211.10" cy="223.60" r="3.55" fill="#ad3236"/>
<circle cx="105.30" cy="252.20" r="3.55" fill="#ad3236"/>
<circle cx="108.84" cy="252.20" r="3.55" fill="#ad3236"/>
<circle cx="112.39" cy="252.20" r="3.55" fill="#ad3236"/>
<circle cx="115.93" cy="252.20" r="3.55" fill="#ad3236"/>
<circle cx="119.47" cy="252.20" r="3.55" fill="#ad3236"/>
<circle cx="123.02" cy="252.20" r="3.55" fill="#ad3236"/>
<circle cx="126.56" cy="252.20" r="3.55" fill="#ad3236"/>
<circle cx="130.11" cy="252.20" r="3.55" fill="#ad3236"/>
<circle cx="133.65" cy="252.20" r="3.55" fill="#ad3236"/>
<circle cx="137.19" cy="252.20" r="3.55" fill="#ad3236"/>
<circle cx="140.74" cy="252.20" r="3.55" fill="#ad3236"/>
<circle cx="144.28" cy="252.20" r="3.55" fill="#ad3236"/>
<circle cx="147.82" cy="252.20" r="3.55" fill="#ad3236"/>
<circle cx="151.37" cy="252.20" r="3.55" fill="#ad3236"/>
<circle cx="154.91" cy="252.20" r="3.55" fill="#ad3236"/>
<circle cx="158.46" cy="252.20" r="3.55" fill="#ad3236"/>
<circle cx="162.00" cy="252.20" r="3.55" fill="#ad3236"/>
<circle cx="170.50" cy="252.20" r="3.55" fill="#ad3236"/>
<circle cx="174.50" cy="252.20" r="3.55" fill="#ad3236"/>
<circle cx="185.50" cy="252.20" r="3.55" fill="#ad3236"/>
<circle cx="190.00" cy="252.20" r="3.55" fill="#ad3236"/>
<circle cx="194.40" cy="252.20" r="3.55" fill="#ad3236"/>
<circle cx="203.80" cy="252.20" r="3.55" fill="#ad3236"/>
<circle cx="85.00" cy="280.90" r="3.55" fill="#ad3236"/>
<circle cx="89.00" cy="280.90" r="3.55" fill="#ad3236"/>
<circle cx="98.10" cy="280.90" r="3.55" fill="#ad3236"/>
<circle cx="101.89" cy="280.90" r="3.55" fill="#ad3236"/>
<circle cx="105.67" cy="280.90" r="3.55" fill="#ad3236"/>
<circle cx="109.46" cy="280.90" r="3.55" fill="#ad3236"/>
<circle cx="113.24" cy="280.90" r="3.55" fill="#ad3236"/>
<circle cx="117.03" cy="280.90" r="3.55" fill="#ad3236"/>
<circle cx="120.81" cy="280.90" r="3.55" fill="#ad3236"/>
<circle cx="124.60" cy="280.90" r="3.55" fill="#ad3236"/>
<circle cx="131.20" cy="280.90" r="3.55" fill="#ad3236"/>
<circle cx="135.75" cy="280.90" r="3.55" fill="#ad3236"/>
<circle cx="140.30" cy="280.90" r="3.55" fill="#ad3236"/>
<circle cx="145.10" cy="280.90" r="3.55" fill="#ad3236"/>
<circle cx="149.00" cy="280.90" r="3.55" fill="#ad3236"/>
<circle cx="158.40" cy="280.90" r="3.55" fill="#ad3236"/>
<circle cx="69.00" cy="309.50" r="3.55" fill="#ad3236"/>
<circle cx="72.50" cy="309.50" r="3.55" fill="#ad3236"/>
<circle cx="76.40" cy="309.50" r="3.55" fill="#ad3236"/>
<circle cx="86.60" cy="309.50" r="3.55" fill="#ad3236"/>
<circle cx="90.10" cy="309.50" r="3.55" fill="#ad3236"/>
<circle cx="93.60" cy="309.50" r="3.55" fill="#ad3236"/>
<circle cx="97.10" cy="309.50" r="3.55" fill="#ad3236"/>
<circle cx="100.60" cy="309.50" r="3.55" fill="#ad3236"/>
<circle cx="104.10" cy="309.50" r="3.55" fill="#ad3236"/>
<circle cx="107.60" cy="309.50" r="3.55" fill="#ad3236"/>
<circle cx="111.10" cy="309.50" r="3.55" fill="#ad3236"/>
<circle cx="122.80" cy="309.50" r="3.55" fill="#ad3236"/>
<circle cx="54.50" cy="338.10" r="3.55" fill="#ad3236"/>
<circle cx="60.80" cy="338.10" r="3.55" fill="#ad3236"/>
<circle cx="79.40" cy="338.10" r="3.55" fill="#ad3236"/>
<rect x="51.600" y="223.300" width="66.800" height="33.000" rx="2.2" fill="#fff" fill-opacity="0.8" stroke="#d6d6d6" stroke-width="0.8"/>
<text x="56.450" y="238.500" font-size="11.236" font-style="italic">r</text>
<text x="60.558" y="240.600" font-size="8.014" font-style="italic" textLength="4.710" lengthAdjust="spacingAndGlyphs">p</text>
<text x="65.468" y="238.500" font-size="11.130" text-anchor="start" textLength="32.484" lengthAdjust="spacingAndGlyphs">=0.64</text>
<text transform="matrix(0.13421 0 0 0.14857 98.051 240.851)" font-size="100" fill="#000">***</text>
<text x="56.450" y="251.800" font-size="11.236" font-style="italic">r</text>
<text x="60.558" y="253.900" font-size="8.014" font-style="italic" textLength="3.866" lengthAdjust="spacingAndGlyphs">s</text>
<text x="64.624" y="251.800" font-size="11.130" text-anchor="start" textLength="32.484" lengthAdjust="spacingAndGlyphs">=0.69</text>
<text transform="matrix(0.13421 0 0 0.14857 97.207 254.151)" font-size="100" fill="#000">***</text>
<rect x="270.800" y="218.000" width="172.200" height="125.400" fill="#fff" stroke="#555" stroke-width="0.8"/>
<line x1="290.500" y1="343.400" x2="290.500" y2="345.300" stroke="#222" stroke-width="0.7"/>
<text x="290.500" y="356.200" font-size="10.500" text-anchor="middle" textLength="6.362" lengthAdjust="spacingAndGlyphs">1</text>
<line x1="325.700" y1="343.400" x2="325.700" y2="345.300" stroke="#222" stroke-width="0.7"/>
<text x="325.700" y="356.200" font-size="10.500" text-anchor="middle" textLength="6.362" lengthAdjust="spacingAndGlyphs">2</text>
<line x1="360.900" y1="343.400" x2="360.900" y2="345.300" stroke="#222" stroke-width="0.7"/>
<text x="360.900" y="356.200" font-size="10.500" text-anchor="middle" textLength="6.362" lengthAdjust="spacingAndGlyphs">3</text>
<line x1="396.100" y1="343.400" x2="396.100" y2="345.300" stroke="#222" stroke-width="0.7"/>
<text x="396.100" y="356.200" font-size="10.500" text-anchor="middle" textLength="6.362" lengthAdjust="spacingAndGlyphs">4</text>
<line x1="431.300" y1="343.400" x2="431.300" y2="345.300" stroke="#222" stroke-width="0.7"/>
<text x="431.300" y="356.200" font-size="10.500" text-anchor="middle" textLength="6.362" lengthAdjust="spacingAndGlyphs">5</text>
<line x1="270.800" y1="252.200" x2="268.900" y2="252.200" stroke="#222" stroke-width="0.7"/>
<text x="266.800" y="257.000" font-size="10.500" text-anchor="end" textLength="12.725" lengthAdjust="spacingAndGlyphs">15</text>
<line x1="270.800" y1="287.900" x2="268.900" y2="287.900" stroke="#222" stroke-width="0.7"/>
<text x="266.800" y="292.700" font-size="10.500" text-anchor="end" textLength="12.725" lengthAdjust="spacingAndGlyphs">10</text>
<line x1="270.800" y1="323.600" x2="268.900" y2="323.600" stroke="#222" stroke-width="0.7"/>
<text x="266.800" y="328.400" font-size="10.500" text-anchor="end" textLength="6.362" lengthAdjust="spacingAndGlyphs">5</text>
<circle cx="337.70" cy="223.30" r="3.55" fill="#ad3236"/>
<circle cx="323.30" cy="230.10" r="3.55" fill="#ad3236"/>
<circle cx="318.80" cy="238.40" r="3.55" fill="#ad3236"/>
<circle cx="296.90" cy="244.00" r="3.55" fill="#ad3236"/>
<circle cx="309.00" cy="252.40" r="3.55" fill="#ad3236"/>
<circle cx="297.50" cy="259.50" r="3.55" fill="#ad3236"/>
<circle cx="301.00" cy="259.50" r="3.55" fill="#ad3236"/>
<circle cx="314.60" cy="259.50" r="3.55" fill="#ad3236"/>
<circle cx="324.10" cy="259.50" r="3.55" fill="#ad3236"/>
<circle cx="327.80" cy="259.50" r="3.55" fill="#ad3236"/>
<circle cx="288.60" cy="266.30" r="3.55" fill="#ad3236"/>
<circle cx="317.30" cy="266.30" r="3.55" fill="#ad3236"/>
<circle cx="284.10" cy="273.50" r="3.55" fill="#ad3236"/>
<circle cx="294.60" cy="273.50" r="3.55" fill="#ad3236"/>
<circle cx="298.40" cy="273.50" r="3.55" fill="#ad3236"/>
<circle cx="320.00" cy="273.50" r="3.55" fill="#ad3236"/>
<circle cx="279.80" cy="280.60" r="3.55" fill="#ad3236"/>
<circle cx="303.70" cy="280.60" r="3.55" fill="#ad3236"/>
<circle cx="278.30" cy="295.00" r="3.55" fill="#ad3236"/>
<circle cx="280.00" cy="338.10" r="3.55" fill="#ad3236"/>
<circle cx="386.50" cy="244.90" r="3.55" fill="#ad3236"/>
<circle cx="392.60" cy="244.90" r="3.55" fill="#ad3236"/>
<circle cx="411.80" cy="244.90" r="3.55" fill="#ad3236"/>
<circle cx="417.10" cy="244.90" r="3.55" fill="#ad3236"/>
<circle cx="435.50" cy="223.50" r="3.55" fill="#ad3236"/>
<rect x="276.500" y="223.500" width="66.100" height="33.000" rx="2.2" fill="#fff" fill-opacity="0.8" stroke="#d6d6d6" stroke-width="0.8"/>
<text x="281.350" y="238.700" font-size="11.236" font-style="italic">r</text>
<text x="285.458" y="240.800" font-size="8.014" font-style="italic" textLength="4.710" lengthAdjust="spacingAndGlyphs">p</text>
<text x="290.368" y="238.700" font-size="11.130" text-anchor="start" textLength="32.484" lengthAdjust="spacingAndGlyphs">=0.62</text>
<text transform="matrix(0.13421 0 0 0.14857 322.951 241.051)" font-size="100" fill="#000">***</text>
<text x="281.350" y="252.000" font-size="11.236" font-style="italic">r</text>
<text x="285.458" y="254.100" font-size="8.014" font-style="italic" textLength="3.866" lengthAdjust="spacingAndGlyphs">s</text>
<text x="289.524" y="252.000" font-size="11.130" text-anchor="start" textLength="32.484" lengthAdjust="spacingAndGlyphs">=0.77</text>
<text transform="matrix(0.13421 0 0 0.14857 322.107 254.351)" font-size="100" fill="#000">***</text>
<rect x="494.900" y="218.000" width="172.600" height="125.400" fill="#fff" stroke="#555" stroke-width="0.8"/>
<line x1="512.100" y1="343.400" x2="512.100" y2="345.300" stroke="#222" stroke-width="0.7"/>
<text x="512.100" y="356.200" font-size="10.500" text-anchor="middle" textLength="15.904" lengthAdjust="spacingAndGlyphs">1.0</text>
<line x1="548.425" y1="343.400" x2="548.425" y2="345.300" stroke="#222" stroke-width="0.7"/>
<text x="548.425" y="356.200" font-size="10.500" text-anchor="middle" textLength="15.904" lengthAdjust="spacingAndGlyphs">1.5</text>
<line x1="584.750" y1="343.400" x2="584.750" y2="345.300" stroke="#222" stroke-width="0.7"/>
<text x="584.750" y="356.200" font-size="10.500" text-anchor="middle" textLength="15.904" lengthAdjust="spacingAndGlyphs">2.0</text>
<line x1="621.075" y1="343.400" x2="621.075" y2="345.300" stroke="#222" stroke-width="0.7"/>
<text x="621.075" y="356.200" font-size="10.500" text-anchor="middle" textLength="15.904" lengthAdjust="spacingAndGlyphs">2.5</text>
<line x1="657.400" y1="343.400" x2="657.400" y2="345.300" stroke="#222" stroke-width="0.7"/>
<text x="657.400" y="356.200" font-size="10.500" text-anchor="middle" textLength="15.904" lengthAdjust="spacingAndGlyphs">3.0</text>
<line x1="494.900" y1="239.900" x2="493.000" y2="239.900" stroke="#222" stroke-width="0.7"/>
<text x="490.900" y="244.700" font-size="10.500" text-anchor="end" textLength="12.725" lengthAdjust="spacingAndGlyphs">16</text>
<line x1="494.900" y1="272.600" x2="493.000" y2="272.600" stroke="#222" stroke-width="0.7"/>
<text x="490.900" y="277.400" font-size="10.500" text-anchor="end" textLength="12.725" lengthAdjust="spacingAndGlyphs">14</text>
<line x1="494.900" y1="305.300" x2="493.000" y2="305.300" stroke="#222" stroke-width="0.7"/>
<text x="490.900" y="310.100" font-size="10.500" text-anchor="end" textLength="12.725" lengthAdjust="spacingAndGlyphs">12</text>
<line x1="494.900" y1="338.000" x2="493.000" y2="338.000" stroke="#222" stroke-width="0.7"/>
<text x="490.900" y="342.800" font-size="10.500" text-anchor="end" textLength="12.725" lengthAdjust="spacingAndGlyphs">10</text>
<circle cx="502.70" cy="338.00" r="3.55" fill="#ad3236"/>
<circle cx="515.80" cy="289.00" r="3.55" fill="#ad3236"/>
<circle cx="522.20" cy="289.00" r="3.55" fill="#ad3236"/>
<circle cx="583.60" cy="289.00" r="3.55" fill="#ad3236"/>
<circle cx="544.70" cy="272.60" r="3.55" fill="#ad3236"/>
<circle cx="558.70" cy="272.60" r="3.55" fill="#ad3236"/>
<circle cx="565.00" cy="272.60" r="3.55" fill="#ad3236"/>
<circle cx="583.30" cy="272.60" r="3.55" fill="#ad3236"/>
<circle cx="589.80" cy="272.60" r="3.55" fill="#ad3236"/>
<circle cx="594.30" cy="272.60" r="3.55" fill="#ad3236"/>
<circle cx="603.60" cy="272.60" r="3.55" fill="#ad3236"/>
<circle cx="619.70" cy="272.60" r="3.55" fill="#ad3236"/>
<circle cx="603.60" cy="256.30" r="3.55" fill="#ad3236"/>
<circle cx="606.00" cy="256.30" r="3.55" fill="#ad3236"/>
<circle cx="611.50" cy="256.30" r="3.55" fill="#ad3236"/>
<circle cx="617.20" cy="256.30" r="3.55" fill="#ad3236"/>
<circle cx="628.90" cy="256.30" r="3.55" fill="#ad3236"/>
<circle cx="638.60" cy="256.30" r="3.55" fill="#ad3236"/>
<circle cx="641.90" cy="256.30" r="3.55" fill="#ad3236"/>
<circle cx="659.40" cy="239.80" r="3.55" fill="#ad3236"/>
<circle cx="598.90" cy="223.60" r="3.55" fill="#ad3236"/>
<circle cx="623.40" cy="223.60" r="3.55" fill="#ad3236"/>
<circle cx="625.60" cy="223.60" r="3.55" fill="#ad3236"/>
<rect x="500.300" y="223.300" width="66.500" height="33.200" rx="2.2" fill="#fff" fill-opacity="0.8" stroke="#d6d6d6" stroke-width="0.8"/>
<text x="505.150" y="238.500" font-size="11.236" font-style="italic">r</text>
<text x="509.258" y="240.600" font-size="8.014" font-style="italic" textLength="4.710" lengthAdjust="spacingAndGlyphs">p</text>
<text x="514.168" y="238.500" font-size="11.130" text-anchor="start" textLength="32.484" lengthAdjust="spacingAndGlyphs">=0.75</text>
<text transform="matrix(0.13421 0 0 0.14857 546.751 240.851)" font-size="100" fill="#000">***</text>
<text x="505.150" y="251.800" font-size="11.236" font-style="italic">r</text>
<text x="509.258" y="253.900" font-size="8.014" font-style="italic" textLength="3.866" lengthAdjust="spacingAndGlyphs">s</text>
<text x="513.324" y="251.800" font-size="11.130" text-anchor="start" textLength="32.484" lengthAdjust="spacingAndGlyphs">=0.79</text>
<text transform="matrix(0.13421 0 0 0.14857 545.907 254.151)" font-size="100" fill="#000">***</text>
<rect x="46.500" y="375.500" width="172.300" height="125.800" fill="#fff" stroke="#555" stroke-width="0.8"/>
<line x1="77.400" y1="501.300" x2="77.400" y2="503.200" stroke="#222" stroke-width="0.7"/>
<text x="77.400" y="513.500" font-size="10.500" text-anchor="middle" textLength="15.904" lengthAdjust="spacingAndGlyphs">0.8</text>
<line x1="114.700" y1="501.300" x2="114.700" y2="503.200" stroke="#222" stroke-width="0.7"/>
<text x="114.700" y="513.500" font-size="10.500" text-anchor="middle" textLength="15.904" lengthAdjust="spacingAndGlyphs">1.0</text>
<line x1="152.000" y1="501.300" x2="152.000" y2="503.200" stroke="#222" stroke-width="0.7"/>
<text x="152.000" y="513.500" font-size="10.500" text-anchor="middle" textLength="15.904" lengthAdjust="spacingAndGlyphs">1.2</text>
<line x1="189.300" y1="501.300" x2="189.300" y2="503.200" stroke="#222" stroke-width="0.7"/>
<text x="189.300" y="513.500" font-size="10.500" text-anchor="middle" textLength="15.904" lengthAdjust="spacingAndGlyphs">1.4</text>
<line x1="46.500" y1="391.600" x2="44.600" y2="391.600" stroke="#222" stroke-width="0.7"/>
<text x="42.500" y="396.400" font-size="10.500" text-anchor="end" textLength="28.629" lengthAdjust="spacingAndGlyphs">0.875</text>
<line x1="46.500" y1="421.050" x2="44.600" y2="421.050" stroke="#222" stroke-width="0.7"/>
<text x="42.500" y="425.850" font-size="10.500" text-anchor="end" textLength="28.629" lengthAdjust="spacingAndGlyphs">0.850</text>
<line x1="46.500" y1="450.500" x2="44.600" y2="450.500" stroke="#222" stroke-width="0.7"/>
<text x="42.500" y="455.300" font-size="10.500" text-anchor="end" textLength="28.629" lengthAdjust="spacingAndGlyphs">0.825</text>
<line x1="46.500" y1="479.950" x2="44.600" y2="479.950" stroke="#222" stroke-width="0.7"/>
<text x="42.500" y="484.750" font-size="10.500" text-anchor="end" textLength="28.629" lengthAdjust="spacingAndGlyphs">0.800</text>
<circle cx="54.10" cy="381.10" r="3.55" fill="#ad3236"/>
<circle cx="68.60" cy="402.40" r="3.55" fill="#ad3236"/>
<circle cx="87.90" cy="407.10" r="3.55" fill="#ad3236"/>
<circle cx="105.80" cy="423.50" r="3.55" fill="#ad3236"/>
<circle cx="103.50" cy="438.60" r="3.55" fill="#ad3236"/>
<circle cx="127.50" cy="437.60" r="3.55" fill="#ad3236"/>
<circle cx="135.60" cy="445.40" r="3.55" fill="#ad3236"/>
<circle cx="137.50" cy="443.90" r="3.55" fill="#ad3236"/>
<circle cx="155.80" cy="455.20" r="3.55" fill="#ad3236"/>
<circle cx="124.90" cy="465.00" r="3.55" fill="#ad3236"/>
<circle cx="211.20" cy="495.50" r="3.55" fill="#ad3236"/>
<rect x="142.600" y="380.500" width="70.600" height="33.900" rx="2.2" fill="#fff" fill-opacity="0.8" stroke="#d6d6d6" stroke-width="0.8"/>
<text x="147.450" y="395.700" font-size="11.236" font-style="italic">r</text>
<text x="151.558" y="397.800" font-size="8.014" font-style="italic" textLength="4.710" lengthAdjust="spacingAndGlyphs">p</text>
<text x="156.468" y="395.700" font-size="11.130" text-anchor="start" textLength="36.309" lengthAdjust="spacingAndGlyphs">=-0.95</text>
<text transform="matrix(0.13421 0 0 0.14857 192.876 398.051)" font-size="100" fill="#000">***</text>
<text x="147.450" y="409.000" font-size="11.236" font-style="italic">r</text>
<text x="151.558" y="411.100" font-size="8.014" font-style="italic" textLength="3.866" lengthAdjust="spacingAndGlyphs">s</text>
<text x="155.624" y="409.000" font-size="11.130" text-anchor="start" textLength="36.309" lengthAdjust="spacingAndGlyphs">=-0.86</text>
<text transform="matrix(0.13421 0 0 0.14857 192.032 411.351)" font-size="100" fill="#000">***</text>
<rect x="270.600" y="375.500" width="172.600" height="125.800" fill="#fff" stroke="#555" stroke-width="0.8"/>
<line x1="323.500" y1="501.300" x2="323.500" y2="503.200" stroke="#222" stroke-width="0.7"/>
<text x="323.500" y="513.500" font-size="10.500" text-anchor="middle" textLength="15.904" lengthAdjust="spacingAndGlyphs">1.0</text>
<line x1="391.500" y1="501.300" x2="391.500" y2="503.200" stroke="#222" stroke-width="0.7"/>
<text x="391.500" y="513.500" font-size="10.500" text-anchor="middle" textLength="15.904" lengthAdjust="spacingAndGlyphs">1.5</text>
<line x1="270.600" y1="392.900" x2="268.700" y2="392.900" stroke="#222" stroke-width="0.7"/>
<text x="266.600" y="397.700" font-size="10.500" text-anchor="end" textLength="15.904" lengthAdjust="spacingAndGlyphs">0.8</text>
<line x1="270.600" y1="435.450" x2="268.700" y2="435.450" stroke="#222" stroke-width="0.7"/>
<text x="266.600" y="440.250" font-size="10.500" text-anchor="end" textLength="15.904" lengthAdjust="spacingAndGlyphs">0.7</text>
<line x1="270.600" y1="478.000" x2="268.700" y2="478.000" stroke="#222" stroke-width="0.7"/>
<text x="266.600" y="482.800" font-size="10.500" text-anchor="end" textLength="15.904" lengthAdjust="spacingAndGlyphs">0.6</text>
<circle cx="278.60" cy="381.10" r="3.55" fill="#ad3236"/>
<circle cx="284.10" cy="403.00" r="3.55" fill="#ad3236"/>
<circle cx="342.50" cy="408.30" r="3.55" fill="#ad3236"/>
<circle cx="375.80" cy="495.20" r="3.55" fill="#ad3236"/>
<circle cx="435.20" cy="436.30" r="3.55" fill="#ad3236"/>
<rect x="378.800" y="380.400" width="58.900" height="33.800" rx="2.2" fill="#fff" fill-opacity="0.8" stroke="#d6d6d6" stroke-width="0.8"/>
<text x="383.650" y="395.600" font-size="11.236" font-style="italic">r</text>
<text x="387.758" y="397.700" font-size="8.014" font-style="italic" textLength="4.710" lengthAdjust="spacingAndGlyphs">p</text>
<text x="392.668" y="395.600" font-size="11.130" text-anchor="start" textLength="36.309" lengthAdjust="spacingAndGlyphs">=-0.65</text>
<text x="383.650" y="408.900" font-size="11.236" font-style="italic">r</text>
<text x="387.758" y="411.000" font-size="8.014" font-style="italic" textLength="3.866" lengthAdjust="spacingAndGlyphs">s</text>
<text x="391.824" y="408.900" font-size="11.130" text-anchor="start" textLength="36.309" lengthAdjust="spacingAndGlyphs">=-0.90</text>
<text transform="matrix(0.13056 0 0 0.14857 428.238 411.251)" font-size="100" fill="#000">*</text>
<rect x="494.800" y="375.500" width="172.700" height="125.800" fill="#fff" stroke="#555" stroke-width="0.8"/>
<line x1="516.300" y1="501.300" x2="516.300" y2="503.200" stroke="#222" stroke-width="0.7"/>
<text x="516.300" y="513.500" font-size="10.500" text-anchor="middle" textLength="15.904" lengthAdjust="spacingAndGlyphs">1.0</text>
<line x1="568.850" y1="501.300" x2="568.850" y2="503.200" stroke="#222" stroke-width="0.7"/>
<text x="568.850" y="513.500" font-size="10.500" text-anchor="middle" textLength="15.904" lengthAdjust="spacingAndGlyphs">1.5</text>
<line x1="621.400" y1="501.300" x2="621.400" y2="503.200" stroke="#222" stroke-width="0.7"/>
<text x="621.400" y="513.500" font-size="10.500" text-anchor="middle" textLength="15.904" lengthAdjust="spacingAndGlyphs">2.0</text>
<line x1="494.800" y1="401.400" x2="492.900" y2="401.400" stroke="#222" stroke-width="0.7"/>
<text x="490.800" y="406.200" font-size="10.500" text-anchor="end" textLength="15.904" lengthAdjust="spacingAndGlyphs">0.8</text>
<line x1="494.800" y1="440.300" x2="492.900" y2="440.300" stroke="#222" stroke-width="0.7"/>
<text x="490.800" y="445.100" font-size="10.500" text-anchor="end" textLength="15.904" lengthAdjust="spacingAndGlyphs">0.7</text>
<line x1="494.800" y1="479.200" x2="492.900" y2="479.200" stroke="#222" stroke-width="0.7"/>
<text x="490.800" y="484.000" font-size="10.500" text-anchor="end" textLength="15.904" lengthAdjust="spacingAndGlyphs">0.6</text>
<circle cx="502.70" cy="381.10" r="3.55" fill="#ad3236"/>
<circle cx="521.70" cy="391.40" r="3.55" fill="#ad3236"/>
<circle cx="530.50" cy="404.90" r="3.55" fill="#ad3236"/>
<circle cx="563.30" cy="409.50" r="3.55" fill="#ad3236"/>
<circle cx="659.20" cy="495.20" r="3.55" fill="#ad3236"/>
<rect x="592.400" y="380.400" width="69.800" height="33.800" rx="2.2" fill="#fff" fill-opacity="0.8" stroke="#d6d6d6" stroke-width="0.8"/>
<text x="597.250" y="395.600" font-size="11.236" font-style="italic">r</text>
<text x="601.358" y="397.700" font-size="8.014" font-style="italic" textLength="4.710" lengthAdjust="spacingAndGlyphs">p</text>
<text x="606.268" y="395.600" font-size="11.130" text-anchor="start" textLength="36.309" lengthAdjust="spacingAndGlyphs">=-0.99</text>
<text transform="matrix(0.13333 0 0 0.14857 642.678 397.951)" font-size="100" fill="#000">**</text>
<text x="597.250" y="408.900" font-size="11.236" font-style="italic">r</text>
<text x="601.358" y="411.000" font-size="8.014" font-style="italic" textLength="3.866" lengthAdjust="spacingAndGlyphs">s</text>
<text x="605.424" y="408.900" font-size="11.130" text-anchor="start" textLength="36.309" lengthAdjust="spacingAndGlyphs">=-1.00</text>
<text transform="matrix(0.13421 0 0 0.14857 641.832 411.251)" font-size="100" fill="#000">***</text>
<text transform="matrix(0.21026 0 0 0.16111 121.164 369.439)" font-size="100" font-style="italic" fill="#000">τ</text>
<path d="M121.60 358.50 C122.39 357.40 124.57 357.20 126.55 357.75 S130.01 358.60 131.50 357.35" fill="none" stroke="#222" stroke-width="0.8" stroke-linecap="round"/>
<text transform="matrix(0.10714 0 0 0.10182 130.125 372.098)" font-size="100" font-style="italic" fill="#000">α</text>
<text transform="matrix(0.12456 0 0 0.12299 137.311 371.917)" font-size="100" font-style="italic" fill="#000">β</text>
<text transform="matrix(0.21026 0 0 0.16111 345.364 369.439)" font-size="100" font-style="italic" fill="#000">τ</text>
<path d="M345.80 358.50 C346.59 357.40 348.77 357.20 350.75 357.75 S354.21 358.60 355.70 357.35" fill="none" stroke="#222" stroke-width="0.8" stroke-linecap="round"/>
<text transform="matrix(0.10714 0 0 0.10182 354.325 372.098)" font-size="100" font-style="italic" fill="#000">α</text>
<text transform="matrix(0.12456 0 0 0.12299 361.511 371.917)" font-size="100" font-style="italic" fill="#000">β</text>
<text transform="matrix(0.21026 0 0 0.16111 569.464 369.439)" font-size="100" font-style="italic" fill="#000">τ</text>
<path d="M569.90 358.50 C570.69 357.40 572.87 357.20 574.85 357.75 S578.31 358.60 579.80 357.35" fill="none" stroke="#222" stroke-width="0.8" stroke-linecap="round"/>
<text transform="matrix(0.10714 0 0 0.10182 578.425 372.098)" font-size="100" font-style="italic" fill="#000">α</text>
<text transform="matrix(0.12456 0 0 0.12299 585.611 371.917)" font-size="100" font-style="italic" fill="#000">β</text>
</svg></body></html>
